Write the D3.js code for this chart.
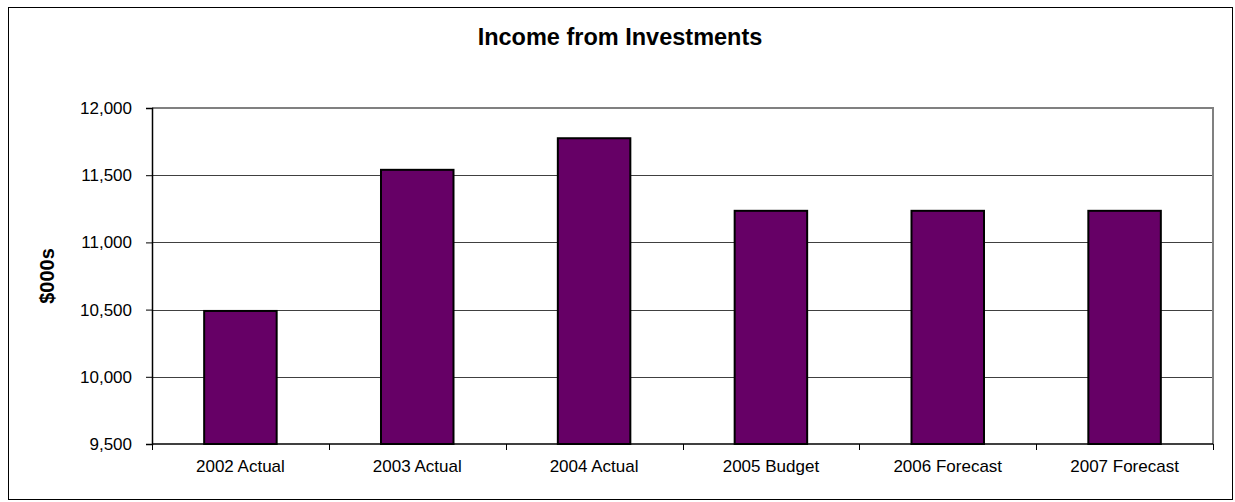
<!DOCTYPE html>
<html>
<head>
<meta charset="utf-8">
<script src="https://cdn.jsdelivr.net/npm/d3@7"></script>
<style>
  html, body { margin: 0; padding: 0; background: #fff; }
  svg { display: block; }
  text { font-family: "Liberation Sans", Arial, sans-serif; fill: #000; }
</style>
</head>
<body>
<svg id="chart" width="1235" height="502"></svg>
<script>
// Income from investments, $000s
const categories = ["2002 Actual", "2003 Actual", "2004 Actual", "2005 Budget", "2006 Forecast", "2007 Forecast"];
const income = [10490, 11540, 11775, 11235, 11235, 11235];
const yTicks = [9500, 10000, 10500, 11000, 11500, 12000];

const svg = d3.select("#chart");
const plot = { left: 152, right: 1213, top: 108, bottom: 444 };

// outer chart frame
svg.append("rect")
  .attr("x", 8.5).attr("y", 7.5)
  .attr("width", 1224).attr("height", 492)
  .attr("fill", "#fff").attr("stroke", "#000").attr("stroke-width", 1);

const x = d3.scaleBand()
  .domain(categories)
  .range([plot.left, plot.right])
  .paddingInner(0.59)
  .paddingOuter(0.295);

const y = d3.scaleLinear()
  .domain([9500, 12000])
  .range([plot.bottom, plot.top]);

// horizontal gridlines
svg.append("g")
  .selectAll("line")
  .data(yTicks.filter(t => t > 9500 && t < 12000))
  .join("line")
  .attr("x1", plot.left).attr("x2", plot.right)
  .attr("y1", d => Math.round(y(d)) + 0.5).attr("y2", d => Math.round(y(d)) + 0.5)
  .attr("stroke", "#404040").attr("stroke-width", 1);

// plot area border (top and right)
svg.append("path")
  .attr("d", `M${plot.left},${plot.top}H${plot.right}V${plot.bottom}`)
  .attr("fill", "none").attr("stroke", "#808080").attr("stroke-width", 2);

// bars
svg.append("g")
  .selectAll("rect")
  .data(categories.map((c, i) => ({ c, v: income[i] })))
  .join("rect")
  .attr("x", d => x(d.c))
  .attr("y", d => y(d.v))
  .attr("width", x.bandwidth())
  .attr("height", d => y(9500) - y(d.v))
  .attr("fill", "#660066")
  .attr("stroke", "#000")
  .attr("stroke-width", 2);

// y axis
const yAxis = d3.axisLeft(y)
  .tickValues(yTicks)
  .tickSize(6)
  .tickPadding(14)
  .tickFormat(d3.format(","));
const gy = svg.append("g")
  .attr("transform", `translate(${plot.left},0)`)
  .call(yAxis);
gy.select(".domain").attr("stroke", "#000").attr("stroke-width", 1.5);
gy.selectAll(".tick line").attr("stroke", "#000");
gy.selectAll(".tick text")
  .attr("font-size", "17px")
  .style("font-family", "'Liberation Sans', Arial, sans-serif")
  .attr("fill", "#000");

// x axis: ticks on category boundaries
const gx = svg.append("g").attr("transform", `translate(0,${plot.bottom})`);
gx.append("line")
  .attr("x1", plot.left).attr("x2", plot.right)
  .attr("stroke", "#000").attr("stroke-width", 1.5);
const step = x.step();
gx.selectAll("line.tick")
  .data(d3.range(categories.length + 1))
  .join("line")
  .attr("class", "tick")
  .attr("x1", i => Math.round(plot.left + i * step) + 0.5)
  .attr("x2", i => Math.round(plot.left + i * step) + 0.5)
  .attr("y1", 0).attr("y2", 6)
  .attr("stroke", "#000");
gx.selectAll("text")
  .data(categories)
  .join("text")
  .attr("x", d => x(d) + x.bandwidth() / 2)
  .attr("y", 28)
  .attr("text-anchor", "middle")
  .attr("font-size", "17px")
  .text(d => d);

// title
svg.append("text")
  .attr("x", 620).attr("y", 45)
  .attr("text-anchor", "middle")
  .attr("font-size", "23.5px")
  .attr("font-weight", "bold")
  .text("Income from Investments");

// y axis title
svg.append("text")
  .attr("transform", `translate(54,${(plot.top + plot.bottom) / 2}) rotate(-90)`)
  .attr("text-anchor", "middle")
  .attr("font-size", "20px")
  .attr("font-weight", "bold")
  .text("$000s");
</script>
</body>
</html>
